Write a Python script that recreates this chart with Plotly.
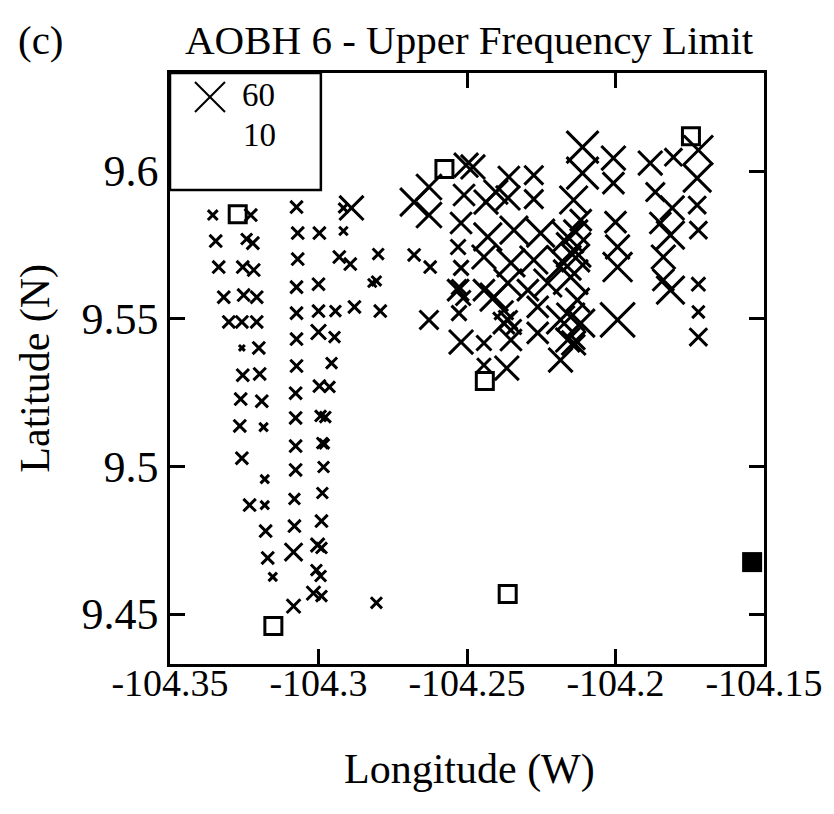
import plotly.graph_objects as go

# ---- data (longitude W, latitude N, value) ----
x_lon = [
    -104.3356, -104.3228, -104.3074, -104.2916, -104.2889, -104.3346, -104.3242, -104.3221,
    -104.3070, -104.2997, -104.2916, -104.3336, -104.3255, -104.3218, -104.3070, -104.2930,
    -104.2893, -104.2799, -104.3319, -104.3252, -104.3208, -104.3074, -104.3000, -104.2805,
    -104.2819, -104.3302, -104.3258, -104.3208, -104.3074, -104.3000, -104.2943, -104.2879,
    -104.2792, -104.3258, -104.3201, -104.3074, -104.3000, -104.2946, -104.3255, -104.3198,
    -104.3074, -104.2956, -104.3262, -104.3191, -104.3077, -104.2997, -104.2963, -104.3265,
    -104.3185, -104.3077, -104.2993, -104.2977, -104.3258, -104.3077, -104.2987, -104.2980,
    -104.3077, -104.2983, -104.3181, -104.3232, -104.3181, -104.3081, -104.2987, -104.3178,
    -104.3081, -104.2990, -104.3171, -104.3084, -104.3003, -104.2990, -104.3154, -104.3007,
    -104.2993, -104.3017, -104.2990, -104.3084, -104.2805,
    -104.2678, -104.2624, -104.2628, -104.2678, -104.2628, -104.2628, -104.2503, -104.2480,
    -104.2510, -104.2520, -104.2530, -104.2520, -104.2527, -104.2530, -104.2513, -104.2527,
    -104.2520, -104.2436, -104.2359, -104.2275, -104.2403, -104.2362, -104.2275, -104.2430,
    -104.2342, -104.2252, -104.2443, -104.2352, -104.2275, -104.2443, -104.2362, -104.2295,
    -104.2228, -104.2376, -104.2262, -104.2443, -104.2352, -104.2443, -104.2366, -104.2362,
    -104.2342, -104.2376, -104.2409, -104.2262, -104.2185, -104.2141, -104.2151, -104.2128,
    -104.2185, -104.2117, -104.2161, -104.2111, -104.2111, -104.2141, -104.2117, -104.2161,
    -104.2174, -104.2141, -104.2151, -104.2134, -104.2134, -104.2007, -104.2007, -104.2000,
    -104.1993, -104.1993, -104.1993, -104.1883, -104.1805, -104.1721, -104.1866, -104.1725,
    -104.1809, -104.1725, -104.1849, -104.1815, -104.1721, -104.1839, -104.1839, -104.1815,
    -104.1721, -104.1721, -104.1721, -104.2128,
]
x_lat = [
    9.5851, 9.5851, 9.5878, 9.5875, 9.5875, 9.5763, 9.5770, 9.5756,
    9.5790, 9.5790, 9.5797, 9.5675, 9.5675, 9.5665, 9.5702, 9.5709,
    9.5685, 9.5719, 9.5573, 9.5580, 9.5573, 9.5607, 9.5617, 9.5628,
    9.5621, 9.5489, 9.5489, 9.5489, 9.5519, 9.5526, 9.5526, 9.5540,
    9.5526, 9.5401, 9.5401, 9.5431, 9.5455, 9.5438, 9.5309, 9.5313,
    9.5340, 9.5350, 9.5228, 9.5221, 9.5248, 9.5272, 9.5269, 9.5137,
    9.5133, 9.5164, 9.5171, 9.5167, 9.5028, 9.5069, 9.5079, 9.5076,
    9.4988, 9.4998, 9.4957, 9.4869, 9.4869, 9.4890, 9.4910, 9.4781,
    9.4798, 9.4815, 9.4690, 9.4710, 9.4734, 9.4724, 9.4626, 9.4649,
    9.4629, 9.4571, 9.4561, 9.4527, 9.4538,
    9.5716, 9.5675, 9.5946, 9.5895, 9.5851, 9.5496, 9.6020, 9.6014,
    9.5919, 9.5824, 9.5743, 9.5672, 9.5607, 9.5597, 9.5570, 9.5519,
    9.5421, 9.5895, 9.5980, 9.5986, 9.5929, 9.5909, 9.5905, 9.5777,
    9.5800, 9.5790, 9.5709, 9.5689, 9.5699, 9.5597, 9.5621, 9.5597,
    9.5621, 9.5485, 9.5452, 9.5418, 9.5428, 9.5343, 9.5333, 9.5496,
    9.5472, 9.5529, 9.5573, 9.5540, 9.5360, 9.5418, 9.5506, 9.5563,
    9.5496, 9.5485, 9.5428, 9.6081, 9.5993, 9.5902, 9.5834, 9.5777,
    9.5689, 9.5733, 9.5641, 9.5794, 9.5706, 9.6044, 9.5959, 9.5827,
    9.5743, 9.5675, 9.5496, 9.6027, 9.6047, 9.6071, 9.5929, 9.5976,
    9.5875, 9.5885, 9.5824, 9.5783, 9.5800, 9.5709, 9.5631, 9.5597,
    9.5617, 9.5523, 9.5438, 9.5421,
]
x_val = [
    22, 26, 26, 22, 44, 26, 24, 26,
    26, 26, 20, 26, 26, 26, 26, 26,
    26, 24, 26, 26, 26, 26, 26, 22,
    20, 26, 26, 26, 26, 26, 24, 26,
    26, 16, 26, 26, 30, 24, 26, 26,
    26, 24, 26, 26, 26, 26, 24, 26,
    20, 26, 24, 24, 26, 26, 24, 22,
    26, 24, 20, 26, 20, 24, 24, 26,
    26, 26, 26, 34, 28, 24, 20, 24,
    24, 28, 24, 28, 24,
    26, 26, 46, 50, 46, 36, 44, 44,
    40, 40, 30, 30, 30, 40, 30, 30,
    44, 44, 40, 36, 44, 44, 36, 50,
    50, 50, 44, 50, 50, 40, 50, 40,
    50, 40, 40, 30, 40, 28, 44, 36,
    30, 36, 50, 40, 44, 44, 50, 44,
    50, 50, 44, 56, 56, 50, 40, 56,
    60, 60, 60, 44, 50, 44, 40, 40,
    44, 52, 60, 44, 34, 52, 36, 50,
    44, 34, 40, 50, 34, 44, 40, 50,
    28, 26, 34, 30,
]

# stations with no value (open squares) and the filled square
sq_lon = [-104.3272, -104.3152, -104.2576, -104.2440, -104.1746, -104.2363]
sq_lat = [9.5854, 9.4460, 9.6007, 9.5289, 9.6118, 9.4568]
fill_lon = [-104.1540]
fill_lat = [9.4676]

x_ticks = [-104.35, -104.3, -104.25, -104.2, -104.15]
x_ticktext = ["-104.35", "-104.3", "-104.25", "-104.2", "-104.15"]
y_ticks = [9.45, 9.5, 9.55, 9.6]
y_ticktext = ["9.45", "9.5", "9.55", "9.6"]
legend_vals = ["60", "10"]

FONT = "Liberation Serif, Times New Roman, serif"

fig = go.Figure()
fig.add_trace(go.Scatter(
    x=x_lon, y=x_lat, mode="markers",
    marker=dict(symbol="x-thin-open", size=[0.65 * v - 4.5 for v in x_val], opacity=1,
                color="black", line=dict(color="black", width=3)),
    showlegend=False, hoverinfo="skip"))
fig.add_trace(go.Scatter(
    x=sq_lon, y=sq_lat, mode="markers",
    marker=dict(symbol="square-open", size=17, color="black", opacity=1,
                line=dict(color="black", width=3)),
    showlegend=False, hoverinfo="skip"))
fig.add_trace(go.Scatter(
    x=fill_lon, y=fill_lat, mode="markers",
    marker=dict(symbol="square", size=20, color="black", opacity=1),
    showlegend=False, hoverinfo="skip"))

axis_common = dict(showline=True, linecolor="black", linewidth=2.5, mirror="ticks",
                   ticks="inside", ticklen=15, tickwidth=2.5, tickcolor="black",
                   showgrid=False, zeroline=False)
fig.update_xaxes(range=[-104.35, -104.15], tickmode="array", tickvals=x_ticks,
                 ticktext=x_ticktext, ticklabelstandoff=-16,
                 tickfont=dict(family=FONT, size=38, color="black"), **axis_common)
fig.update_yaxes(range=[9.4331, 9.6332], tickmode="array", tickvals=y_ticks,
                 ticktext=y_ticktext,
                 tickfont=dict(family=FONT, size=44, color="black"), **axis_common)

# legend box drawn in the upper-left corner
fig.add_shape(type="rect", xref="paper", yref="paper", x0=0, x1=0.254, y0=0.802, y1=1,
              line=dict(color="black", width=2.5), fillcolor="white", layer="above")
cx, cy, hx, hy = 0.0673, 0.9594, 15 / 594, 15 / 591
fig.add_shape(type="line", xref="paper", yref="paper", x0=cx - hx, x1=cx + hx,
              y0=cy - hy, y1=cy + hy, line=dict(color="black", width=2))
fig.add_shape(type="line", xref="paper", yref="paper", x0=cx - hx, x1=cx + hx,
              y0=cy + hy, y1=cy - hy, line=dict(color="black", width=2))

def label(text, x, y, size, angle=0):
    fig.add_annotation(text=text, xref="paper", yref="paper", x=x, y=y,
                       xanchor="center", yanchor="middle", textangle=angle,
                       showarrow=False, font=dict(family=FONT, size=size, color="black"))

label(legend_vals[0], 0.1498, 0.9628, 33)
label(legend_vals[1], 0.1515, 0.8951, 33)
label("AOBH 6 - Upper Frequency Limit", 0.505, 1.0558, 41)
label("(c)", -0.217, 1.0558, 41)
label("Longitude (W)", 0.505, -0.179, 42)
label("Latitude (N)", -0.227, 0.5, 42, angle=-90)

fig.update_layout(width=834, height=814, margin=dict(l=170, r=70, t=73, b=150),
                  paper_bgcolor="white", plot_bgcolor="white", showlegend=False)
fig.write_html("out.html", config={"displayModeBar": False},
               post_script="document.body.style.margin='0px';")
